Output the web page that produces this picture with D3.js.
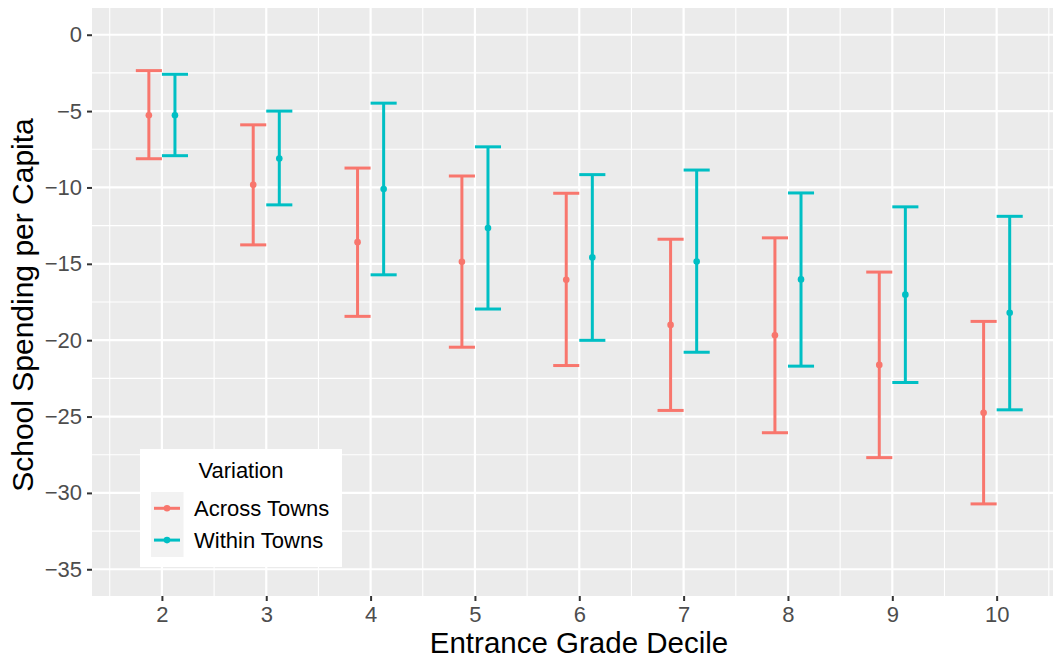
<!DOCTYPE html>
<html>
<head>
<meta charset="utf-8">
<script src="https://cdn.jsdelivr.net/npm/d3@7"></script>
<style>
  body { margin: 0; background: #fff; }
  svg { display: block; font-family: "Liberation Sans", Arial, sans-serif; }
</style>
</head>
<body>
<div id="chart"></div>
<script>
var width = 1055;
var height = 662;

// data
var deciles = [2, 3, 4, 5, 6, 7, 8, 9, 10];
var acrossEst = [-5.27, -9.82, -13.58, -14.87, -16.04, -19.0, -19.68, -21.62, -24.75];
var acrossLo = [-8.12, -13.76, -18.44, -20.46, -21.66, -24.6, -26.06, -27.69, -30.72];
var acrossHi = [-2.35, -5.9, -8.73, -9.25, -10.38, -13.39, -13.3, -15.54, -18.77];
var withinEst = [-5.27, -8.1, -10.1, -12.65, -14.58, -14.85, -16.02, -17.02, -18.2];
var withinLo = [-7.92, -11.14, -15.72, -17.96, -20.01, -20.79, -21.7, -22.77, -24.56];
var withinHi = [-2.59, -5.0, -4.48, -7.34, -9.16, -8.86, -10.36, -11.27, -11.89];
var seriesNames = ['Across Towns', 'Within Towns'];
var seriesColors = ['#F8766D', '#00BFC4'];
var yTicks = [0, -5, -10, -15, -20, -25, -30, -35];

var panel = {left: 92, right: 1053, top: 8, bottom: 596};
var dodge = 0.125;

var rows = [];
deciles.forEach((d, i) => {
    rows.push({s: 0, x: d - dodge, est: acrossEst[i], lo: acrossLo[i], hi: acrossHi[i]});
    rows.push({s: 1, x: d + dodge, est: withinEst[i], lo: withinLo[i], hi: withinHi[i]});
});

var svg = d3.select('#chart')
    .append('svg')
    .attr('width', width)
    .attr('height', height);

var xScale = d3.scaleLinear()
    .domain([1.33, 10.54])
    .range([panel.left, panel.right]);

var yScale = d3.scaleLinear()
    .domain([1.75, -36.75])
    .range([panel.top, panel.bottom]);

// panel background
svg.append('rect')
    .attr('x', panel.left)
    .attr('y', panel.top)
    .attr('width', panel.right - panel.left)
    .attr('height', panel.bottom - panel.top)
    .attr('fill', '#EBEBEB');

var grid = svg.append('g');

// minor grid
var xMinor = deciles.map(d => d - 0.5).concat([10.5]);
var yMinor = yTicks.slice(1).map(t => t + 2.5);

grid.selectAll('.xminor')
    .data(xMinor)
    .enter()
    .append('line')
    .attr('x1', d => xScale(d)).attr('x2', d => xScale(d))
    .attr('y1', panel.top).attr('y2', panel.bottom)
    .attr('stroke', '#fff').attr('stroke-width', 1.1);

grid.selectAll('.yminor')
    .data(yMinor)
    .enter()
    .append('line')
    .attr('y1', d => yScale(d)).attr('y2', d => yScale(d))
    .attr('x1', panel.left).attr('x2', panel.right)
    .attr('stroke', '#fff').attr('stroke-width', 1.1);

// major grid
grid.selectAll('.xmajor')
    .data(deciles)
    .enter()
    .append('line')
    .attr('x1', d => xScale(d)).attr('x2', d => xScale(d))
    .attr('y1', panel.top).attr('y2', panel.bottom)
    .attr('stroke', '#fff').attr('stroke-width', 2.2);

grid.selectAll('.ymajor')
    .data(yTicks)
    .enter()
    .append('line')
    .attr('y1', d => yScale(d)).attr('y2', d => yScale(d))
    .attr('x1', panel.left).attr('x2', panel.right)
    .attr('stroke', '#fff').attr('stroke-width', 2.2);

// axes
var xAxis = d3.axisBottom(xScale)
    .tickValues(deciles)
    .tickSize(5)
    .tickPadding(5);

var gx = svg.append('g')
    .attr('transform', 'translate(0,' + panel.bottom + ')')
    .call(xAxis);

var yAxis = d3.axisLeft(yScale)
    .tickValues(yTicks)
    .tickSize(5)
    .tickPadding(5)
    .tickFormat(d => d < 0 ? '\u2212' + Math.abs(d) : d);

var gy = svg.append('g')
    .attr('transform', 'translate(' + panel.left + ',0)')
    .call(yAxis);

[gx, gy].forEach(g => {
    g.select('.domain').remove();
    g.selectAll('.tick line').attr('stroke', '#333').attr('stroke-width', 2);
    g.selectAll('.tick text')
        .attr('fill', '#4D4D4D')
        .style('font-size', '22px')
        .style('font-family', '"Liberation Sans", Arial, sans-serif');
});

// error bars
var bars = svg.append('g');
var capHalf = 0.125;

bars.selectAll('.stem')
    .data(rows)
    .enter()
    .append('line')
    .attr('x1', d => xScale(d.x)).attr('x2', d => xScale(d.x))
    .attr('y1', d => yScale(d.hi)).attr('y2', d => yScale(d.lo))
    .attr('stroke', d => seriesColors[d.s]).attr('stroke-width', 3);

bars.selectAll('.caphi')
    .data(rows)
    .enter()
    .append('line')
    .attr('x1', d => xScale(d.x - capHalf)).attr('x2', d => xScale(d.x + capHalf))
    .attr('y1', d => yScale(d.hi)).attr('y2', d => yScale(d.hi))
    .attr('stroke', d => seriesColors[d.s]).attr('stroke-width', 3);

bars.selectAll('.caplo')
    .data(rows)
    .enter()
    .append('line')
    .attr('x1', d => xScale(d.x - capHalf)).attr('x2', d => xScale(d.x + capHalf))
    .attr('y1', d => yScale(d.lo)).attr('y2', d => yScale(d.lo))
    .attr('stroke', d => seriesColors[d.s]).attr('stroke-width', 3);

bars.selectAll('.dot')
    .data(rows)
    .enter()
    .append('circle')
    .attr('cx', d => xScale(d.x))
    .attr('cy', d => yScale(d.est))
    .attr('r', 3.3)
    .attr('fill', d => seriesColors[d.s]);

// axis titles
svg.append('text')
    .attr('x', 579)
    .attr('y', 653)
    .attr('text-anchor', 'middle')
    .style('font-size', '29.5px')
    .attr('fill', '#000')
    .text('Entrance Grade Decile');

svg.append('text')
    .attr('transform', 'translate(33,305) rotate(-90)')
    .attr('text-anchor', 'middle')
    .style('font-size', '30px')
    .attr('fill', '#000')
    .text('School Spending per Capita');

// legend
var legend = svg.append('g');
legend.append('rect')
    .attr('x', 140).attr('y', 449)
    .attr('width', 202).attr('height', 118)
    .attr('fill', '#fff');

legend.append('text')
    .attr('x', 241).attr('y', 478)
    .attr('text-anchor', 'middle')
    .style('font-size', '22px')
    .text('Variation');

legend.append('rect')
    .attr('x', 151).attr('y', 492)
    .attr('width', 32.5).attr('height', 65)
    .attr('fill', '#F2F2F2');

var keys = legend.selectAll('.key')
    .data(seriesNames)
    .enter()
    .append('g')
    .attr('transform', (d, i) => 'translate(0,' + (508.3 + i * 31.8) + ')');

keys.append('line')
    .attr('x1', 154).attr('x2', 180)
    .attr('stroke', (d, i) => seriesColors[i])
    .attr('stroke-width', 3);

keys.append('circle')
    .attr('cx', 167).attr('r', 3.3)
    .attr('fill', (d, i) => seriesColors[i]);

keys.append('text')
    .attr('x', 194).attr('y', 8)
    .style('font-size', '22px')
    .text(d => d);
</script>
</body>
</html>
